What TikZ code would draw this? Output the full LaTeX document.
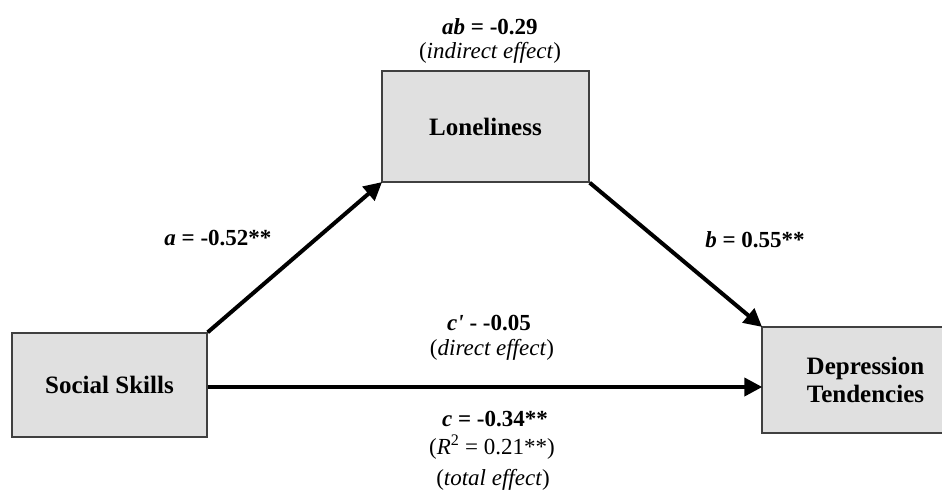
\documentclass[tikz,border=0pt]{standalone}
\usepackage{fontspec}
\setmainfont{Liberation Serif}
\usetikzlibrary{arrows.meta}
\definecolor{boxfill}{HTML}{E0E0E0}
\definecolor{boxline}{HTML}{404040}
\begin{document}
\begin{tikzpicture}[x=1pt,y=-1pt,
  var/.style={draw=boxline,line width=1.4pt,fill=boxfill,rectangle,inner sep=0pt,
    font=\fontsize{25}{28}\selectfont\bfseries,align=center},
  lbl/.style={font=\fontsize{23}{26}\selectfont,align=center,inner sep=0pt},
  path/.style={line width=4pt,-{Triangle[length=18pt,width=18pt]},shorten >=-1pt}]
\useasboundingbox (0,0) rectangle (942,491);
\node[var,minimum width=207pt,minimum height=111pt] (lon) at (485.5,126.5) {Loneliness};
\node[var,minimum width=195pt,minimum height=104pt] (soc) at (109.5,385) {Social Skills};
\node[var,minimum width=207pt,minimum height=106pt] (dep) at (865.5,380) {Depression\\Tendencies};
\draw[path] (soc.north east) -- (lon.south west);
\draw[path] (lon.south east) -- (dep.north west);
\draw[path] (soc.east) ++(0,2) coordinate (hs) -- (hs -| dep.west);
\node[lbl] (ab) at (490,27) {\textbf{\textit{ab}} \textbf{= -0.29}};
\node[lbl] (ind) at (490,53) {(\textit{indirect effect})};
\node[lbl] (la) at (218,238) {\textbf{\textit{a}} \textbf{= -0.52**}};
\node[lbl] (lb) at (755,240) {\textbf{\textit{b}} \textbf{= 0.55**}};
\node[lbl] (lc1) at (489,323) {\textbf{\textit{c\textquotesingle}} \textbf{- -0.05}};
\node[lbl] (dir) at (492,350) {(\textit{direct effect})};
\node[lbl] (lc) at (495,419) {\textbf{\textit{c}} \textbf{= -0.34**}};
\node[lbl] (r2) at (492,447) {(\textit{R}\textsuperscript{2} = 0.21**)};
\node[lbl] (tot) at (493,480) {(\textit{total effect})};
\end{tikzpicture}
\end{document}
